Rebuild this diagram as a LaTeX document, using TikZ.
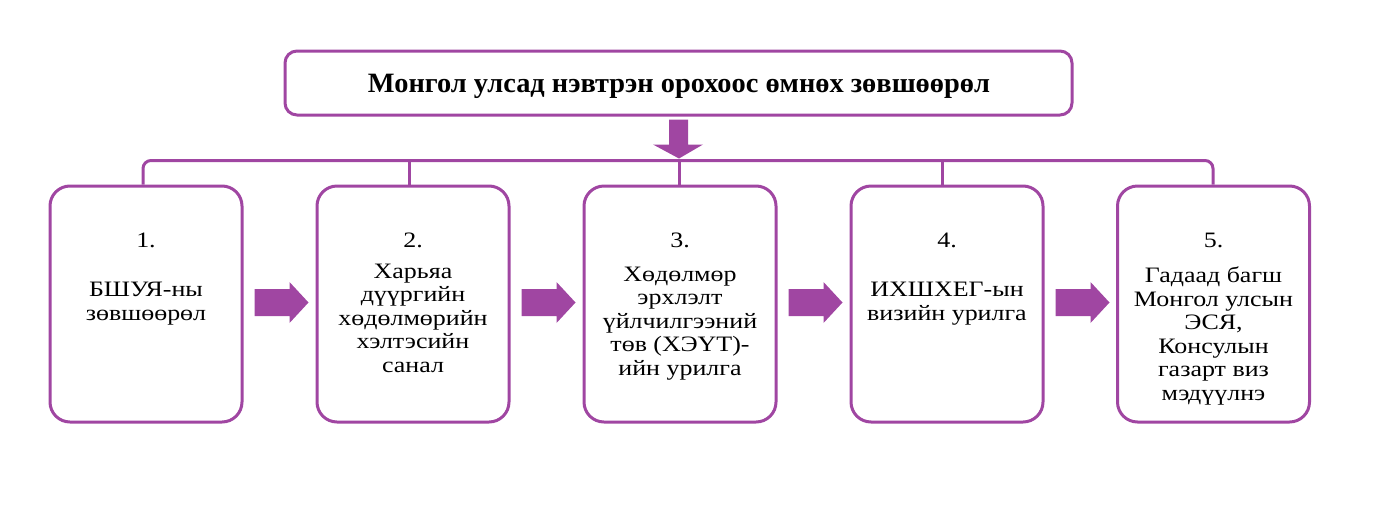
\documentclass[tikz,border=0pt]{standalone}
\usepackage{fontspec}
\usepackage{graphicx}
\setmainfont{Liberation Serif}
\newfontfamily\boxfont{Liberation Serif}[FakeStretch=1.18]
\usetikzlibrary{calc}
\definecolor{purp}{RGB}{160,70,162}
\newcommand\rarrowfill[1]{%
  \fill[purp] ($(#1.east)+(11,-15)$) -- ($(#1.east)+(46,-15)$) -- ($(#1.east)+(46,-22)$)
    -- ($(#1.east)+(65,-1.5)$) -- ($(#1.east)+(46,19)$) -- ($(#1.east)+(46,12)$)
    -- ($(#1.east)+(11,12)$) -- cycle;}
\begin{document}
\begin{tikzpicture}[x=1pt,y=-1pt,
  box/.style={draw=purp, line width=3pt, rounded corners=20pt, minimum width=192pt,
    minimum height=236pt, fill=white, inner sep=0pt},
  topbox/.style={draw=purp, line width=3pt, rounded corners=12pt, minimum width=787pt,
    minimum height=64pt, inner sep=0pt},
  conn/.style={draw=purp, line width=3pt},
  txt/.style={font=\boxfont\fontsize{22}{23.5}\selectfont, align=center, anchor=base, inner sep=0pt},
  titletxt/.style={font=\fontsize{28}{30}\selectfont\bfseries, inner sep=0pt}]
\useasboundingbox (0,0) rectangle (1373,520);
\node[topbox] (top) at (678.5,83) {};
\node[titletxt] (title) at (679,86) {\resizebox{622pt}{\height}{Монгол улсад нэвтрэн орохоос өмнөх зөвшөөрөл}};
\node[box] (b1) at (146,304) {};
\node[box] (b2) at (413,304) {};
\node[box] (b3) at (680,304) {};
\node[box] (b4) at (947,304) {};
\node[box] (b5) at (1213.5,304) {};
% down arrow
\fill[purp] ($(top.south)+(-9.5,3)$) -- ($(top.south)+(9.5,3)$) -- ($(top.south)+(9.5,28)$)
  -- ($(top.south)+(24.5,28)$) -- ($(top.south)+(0.5,42)$) -- ($(top.south)+(-25.5,28)$)
  -- ($(top.south)+(-9.5,28)$) -- cycle;
% bracket
\draw[conn, rounded corners=8pt] ($(b1.north)+(-3,0)$) -- ($(b1.north)+(-3,-24)$)
  -- ($(b5.north)+(-0.5,-24)$) -- ($(b5.north)+(-0.5,0)$);
\draw[conn] ($(b2.north)+(-4,0)$) -- ++(0,-24);
\draw[conn] ($(b3.north)+(-1,0)$) -- ++(0,-24);
\draw[conn] ($(b4.north)+(-5,0)$) -- ++(0,-24);
% right arrows
\rarrowfill{b1}
\rarrowfill{b2}
\rarrowfill{b3}
\rarrowfill{b4}
% numbers
\node[txt] (n1) at ($(b1.center)+(0,-57)$) {1.};
\node[txt] (n2) at ($(b2.center)+(0,-57)$) {2.};
\node[txt] (n3) at ($(b3.center)+(0,-57)$) {3.};
\node[txt] (n4) at ($(b4.center)+(0,-57)$) {4.};
\node[txt] (n5) at ($(b5.center)+(0,-57)$) {5.};
% body texts (base anchor = baseline of the last line)
\node[txt] (t1) at ($(b1.center)+(0,16)$) {БШУЯ-ны\\зөвшөөрөл};
\node[txt] (t2) at ($(b2.center)+(0,68)$) {Харьяа\\дүүргийн\\хөдөлмөрийн\\хэлтэсийн\\санал};
\node[txt] (t3) at ($(b3.center)+(0,71)$) {Хөдөлмөр\\эрхлэлт\\үйлчилгээний\\төв (ХЭҮТ)-\\ийн урилга};
\node[txt] (t4) at ($(b4.center)+(0,16)$) {ИХШХЕГ-ын\\визийн урилга};
\node[txt] (t5) at ($(b5.center)+(0,96)$) {Гадаад багш\\Монгол улсын\\ЭСЯ,\\Консулын\\газарт виз\\мэдүүлнэ};
\end{tikzpicture}
\end{document}
